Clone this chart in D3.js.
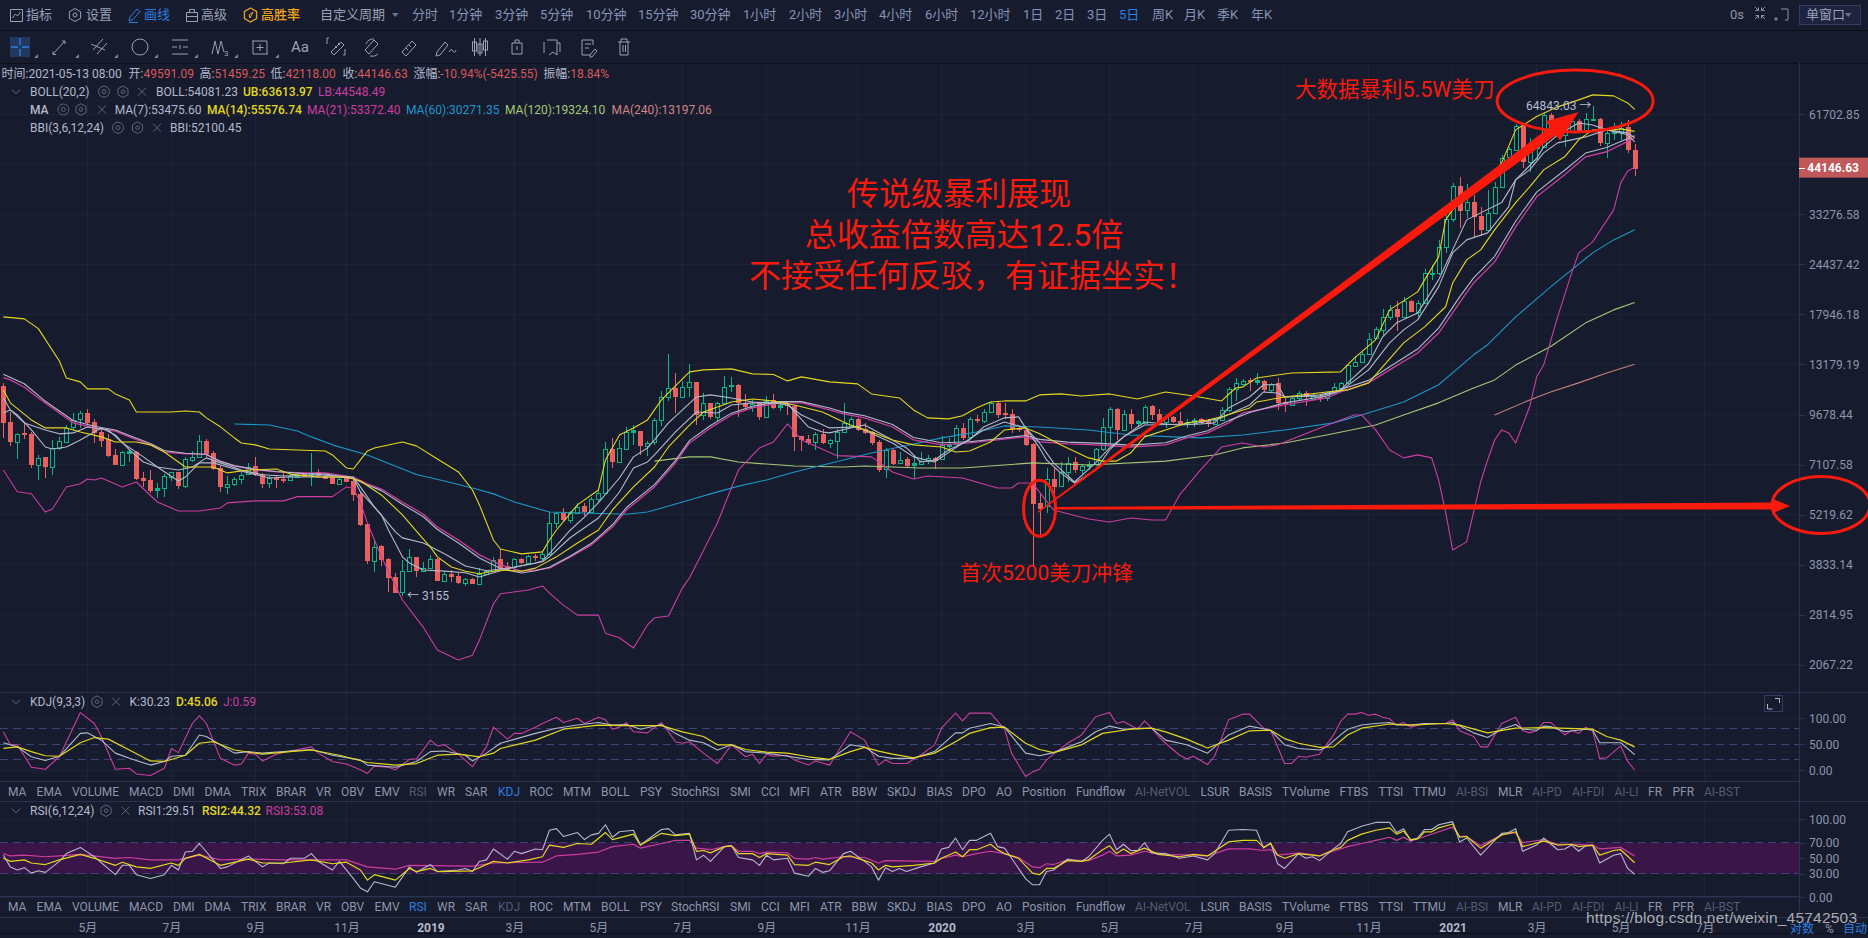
<!DOCTYPE html>
<html><head><meta charset="utf-8">
<style>
html,body{margin:0;padding:0;background:#161b2d;overflow:hidden}
svg{display:block}
text{font-family:Roboto,"Noto Sans CJK SC",sans-serif}
</style>
<script src="https://cdn.jsdelivr.net/npm/d3@7/dist/d3.min.js"></script>
</head><body><svg id="c" width="1868" height="938"></svg>
<script>
// Weekly-style 5-day BTC candles, oldest first
const opens=[11547,9248,8190,8623,8588,7107,7436,7019,7893,8190,
8949,9400,9757,9248,8711,8324,7545,7092,7638,7700,
6543,6461,6062,6139,6584,6790,6242,7327,7436,8206,
7622,6946,6203,6319,6488,6695,7034,6709,6332,6543,
6516,6461,6598,6709,6667,6804,6626,6571,6319,6530,
6435,5929,4926,3926,4301,3967,3543,3231,3676,4018,
3691,3753,3967,3470,3617,3573,3429,3506,3408,3617,
3684,3959,3800,3769,3959,3879,4043,3992,4102,4946,
5273,5047,5262,5506,5315,5759,5977,7810,7238,7843,
8711,8729,7991,8173,9360,10770,11408,10815,11456,11815,
9658,10379,9519,10379,11528,11623,10379,10167,10379,9559,
10569,10167,10273,10230,8465,8325,8157,8588,8140,8239,
8668,9042,9420,8855,8711,8173,6902,7777,7194,7342,
7077,7150,7253,7389,7342,7975,8074,8930,8413,9420,
9304,9817,10379,9757,9718,8893,8799,8074,5597,5517,
6500,6230,6805,7238,6887,7048,7136,7808,8986,10019,
8799,9698,9173,9210,10209,9698,9266,9539,9304,9136,
9229,9400,9323,9136,9360,9937,11360,11720,11970,11850,
11874,11250,11730,10452,10260,10691,11072,10624,10802,10691,
11027,11370,11730,13081,13405,14040,15485,16290,17700,18518,
17700,19443,18220,19220,23036,23224,27156,32276,39664,34190,
35860,33024,30220,33510,39336,47570,49530,57470,46095,50050,
50580,61430,56870,54320,55800,59370,56040,59735,59860,51630,
54920,55430,57230,49591.09];
const closes=[9207,8190,8588,8553,7092,7420,7019,7893,8206,8893,
9360,9757,9173,8658,8222,7497,7107,7669,7731,6502,
6435,6038,6139,6613,6777,6229,7342,7436,8206,7591,
6917,6203,6319,6488,6681,7019,6667,6319,6530,6475,
6435,6626,6667,6598,6736,6612,6516,6319,6488,6396,
5905,4896,3926,4283,3942,3536,3224,3676,4009,3691,
3761,3959,3470,3610,3558,3422,3499,3408,3610,3676,
3950,3722,3706,3959,3863,4034,3984,4093,4946,5262,
5037,5262,5483,5315,5759,5977,7810,7238,7860,8711,
8799,7991,8140,9360,10770,11385,10815,11456,11815,9658,
10379,9519,10379,11504,11600,10421,10167,10337,9539,10548,
10083,10273,10209,8448,8272,8107,8588,8124,8256,8676,
9173,9400,8799,8641,8107,6873,7777,7136,7311,7048,
7165,7253,7389,7280,8025,8074,8930,8360,9400,9304,
9817,10379,9658,9678,8836,8799,8041,5574,5392,6500,
6203,6805,7165,6873,7048,7136,7808,8986,9998,8799,
9698,9136,9304,10167,9658,9266,9519,9248,9154,9266,
9360,9210,9136,9360,9937,11360,11745,11887,11826,11970,
11250,11682,10410,10324,10691,11072,10802,10847,10624,11027,
11442,11730,13108,13405,14040,15450,16360,17700,18402,17700,
19443,18255,19220,23130,23224,27156,32276,39664,34054,35860,
32820,30284,33510,39336,47000,49740,57470,46095,50580,50580,
61430,56630,54320,58420,59370,55800,59860,60110,51630,54920,
55430,56630,49530,44146.63];
const highs=[11739,9857,8658,9173,8676,7545,7436,8272,8413,9080,
9757,9916,10040,9400,8986,8588,7810,7746,7810,7746,
6804,6873,6358,6709,6804,6804,7466,7746,8535,8307,
7715,7048,6626,6598,6804,7165,7451,6736,6626,6626,
6804,6804,6736,6736,7622,6931,6667,6598,6571,6598,
6488,6014,4946,4461,4319,3984,3632,3942,4212,4026,
3902,4068,3984,3669,3706,3632,3528,3521,3746,3706,
4026,4212,3902,3984,3984,4068,4093,4177,5294,5315,
5426,5348,5620,5597,5808,6050,8190,8360,8272,8948,
9080,8764,8239,9460,11220,14073,12543,11935,13234,11815,
11085,10421,10484,12288,12186,11672,10995,10590,10421,10860,
10972,10548,10379,10273,8500,8536,8693,8836,8342,8836,
10379,9519,9460,9173,8746,8272,7860,7808,7684,7466,
7544,7700,7544,7466,8483,8360,9061,9173,9559,9658,
9998,10506,10548,10421,10019,9023,8949,8107,5953,6946,
6946,7238,7466,7435,7136,7282,7860,9480,10125,10061,
9956,9998,9360,10273,10252,9998,9600,9600,9817,9400,
9460,9480,9400,9440,10167,11456,12110,12085,12097,12477,
11970,11778,12097,10691,10758,11205,11160,11027,10915,11116,
11778,11850,13135,13884,14256,16030,16590,18518,19025,19530,
19943,19610,19610,23700,24355,28410,33374,40330,42020,40150,
37600,34920,38680,40740,48100,50580,58240,58420,53240,53240,
62090,62090,57470,60230,60860,59860,62090,64843.03,60230,56040,
58420,59010,59610,51459.25];
const lows=[8357,7975,7358,8307,6946,6461,6530,6667,7777,8107,
8799,8893,9080,8107,7942,7436,7092,7063,7238,6461,
6203,5977,5796,5832,6435,6100,6165,7238,7389,7466,
6873,6014,5917,6229,6293,6667,6626,6165,6165,6165,
6358,6409,6530,6571,6229,6530,6488,6293,6280,6384,
5688,4876,3839,3669,3809,3244,3211,3155,3662,3558,
3669,3738,3463,3449,3449,3393,3366,3393,3401,3595,
3669,3706,3691,3706,3848,3848,3926,3942,4068,4796,
4996,4946,5240,5186,5283,5620,5929,6946,7209,7810,
8025,7544,7514,8041,9023,10548,9757,10770,10770,9098,
9360,9440,9323,10273,11152,9557,9916,9857,9360,9519,
10040,9916,9658,7730,7730,8025,7777,8058,7860,7342,
8623,8986,8764,8588,8025,6805,6530,7092,7165,7019,
6502,7121,7121,6902,7311,7700,8025,8272,8360,9173,
9173,9757,9460,9400,8623,8676,7992,3790,4508,5283,
5892,6203,6396,6763,6709,6873,7048,7746,8025,8272,
8764,8836,8986,9136,9360,9210,8930,9210,9061,8893,
8986,9136,8986,9061,9323,9857,10548,11553,11205,11610,
11138,11138,9940,9850,10217,10580,10217,10580,10431,10537,
10982,11138,11682,13054,13335,13997,15385,15805,17330,16225,
17626,18181,17700,19142,22190,22895,26170,31820,30540,32480,
29010,29140,29920,33374,39090,47180,49320,44235,43335,46560,
50050,56040,53800,50580,55450,55450,55800,59610,50790,47055,
52680,52680,48700,42118.00];

// Indicator readings as [candle index, value]
const bollUpper=[[0,17681],[3,17470],[5,16440],[8,13470],[9,12130],[11,11840],[12,11335],[15,11335],[16,10990],[18,10590],[19,9830],[21,9830],[24,9830],[26,9895],[28,9830],[29,9480],[31,8970],[33,8375],[34,8120],[36,8025],[38,7825],[46,7730],[47,7540],[49,6960],[50,6915],[51,7311],[52,7730],[53,7875],[57,8170],[59,7975],[62,7357],[65,6790],[67,6074],[68,5540],[70,4461],[71,4220],[74,4095],[77,4145],[78,4461],[79,4745],[82,5540],[85,6074],[86,7311],[88,8530],[90,8900],[92,9360],[94,10590],[98,12590],[100,12746],[104,12825],[107,12440],[110,12390],[112,11910],[114,12210],[118,11840],[120,11765],[122,11690],[124,10990],[126,10850],[128,10720],[130,9956],[132,9480],[135,9420],[137,9600],[139,10080],[141,10460],[143,10525],[146,10525],[148,10925],[151,10990],[154,10850],[158,10990],[162,10655],[166,11125],[170,10850],[174,10525],[176,11400],[177,11460],[179,12130],[184,12510],[191,12590],[193,13730],[196,15341],[198,18462],[202,20630],[203,22217],[205,25610],[206,32177],[207,34226],[210,38723],[212,40430],[214,45740],[216,56080],[219,60930],[222,64640],[225,67490],[227,69610],[230,69180],[232,66240],[233,63613.97]];
const bollLower=[[0,6873],[2,6010],[4,5935],[6,5300],[7,5400],[8,5780],[9,6190],[11,6310],[12,6500],[13,6461],[14,6540],[17,6190],[18,6280],[19,6380],[22,5640],[25,5335],[28,5335],[31,5435],[32,5610],[36,5680],[40,5680],[42,5830],[47,5830],[49,6190],[50,6150],[51,5610],[52,4960],[54,4020],[57,3080],[60,2600],[62,2261],[65,2126],[67,2190],[68,2405],[70,3010],[71,3200],[75,3276],[77,3360],[78,3215],[80,2985],[82,2805],[85,2805],[86,2510],[88,2440],[90,2290],[92,2640],[93,2760],[95,2790],[97,3320],[98,3530],[102,4960],[105,6873],[108,7875],[110,8170],[112,9130],[114,8272],[115,8120],[119,7510],[124,7450],[127,6790],[130,6500],[132,6620],[137,6540],[142,6150],[144,6150],[145,6340],[147,6340],[150,5369],[155,5080],[158,4985],[161,5110],[164,5047],[166,5047],[168,5890],[171,6873],[174,7920],[177,8120],[180,7920],[182,8025],[191,9360],[193,9650],[194,9650],[196,8800],[198,7777],[200,7405],[202,7545],[204,7405],[205,6461],[206,5300],[207,4194],[209,4410],[211,6380],[212,7311],[213,8272],[214,8800],[215,8640],[216,8120],[218,10150],[219,12200],[220,13130],[222,17680],[224,23200],[225,26250],[227,28100],[230,34226],[231,40430],[232,43500],[233,44548.49]];
const bollMid=[[0,12400],[3,11700],[6,10500],[10,9310],[13,9000],[16,8800],[18,8500],[21,8090],[23,7750],[26,7620],[29,7560],[31,7250],[33,7060],[36,6900],[39,6810],[43,6720],[46,6700],[50,6520],[52,6260],[54,6050],[57,5560],[60,5150],[62,4760],[65,4380],[68,3990],[71,3740],[74,3640],[76,3690],[78,3770],[81,4040],[84,4370],[87,4900],[89,5450],[93,6280],[96,7280],[98,8240],[101,9040],[104,9760],[107,10180],[111,10480],[114,10480],[118,10080],[120,9820],[123,9600],[127,9100],[130,8400],[134,8130],[138,8180],[142,8330],[146,8500],[148,8300],[152,8160],[156,8110],[161,8010],[166,8130],[169,8480],[172,8760],[175,9320],[178,9800],[183,10400],[189,10850],[191,11300],[195,11950],[198,13000],[202,14500],[205,16500],[208,20000],[210,22500],[213,25700],[216,31900],[219,38200],[223,43700],[226,48600],[229,50300],[231,52200],[233,54081.23]];
const ma7=[[0,9770],[1,9956],[2,9650],[4,8800],[6,7920],[7,7825],[9,7920],[11,8272],[13,8690],[14,8910],[16,8530],[18,7777],[20,7220],[22,7000],[25,6420],[26,6580],[28,7180],[30,7180],[32,7000],[35,6750],[38,6540],[41,6580],[44,6580],[47,6580],[50,6540],[51,6000],[54,5210],[55,4745],[57,4020],[58,3870],[60,3706],[63,3680],[66,3645],[68,3550],[70,3645],[73,3775],[76,3870],[77,3920],[78,4100],[81,4745],[83,5140],[85,5620],[88,6540],[90,7450],[92,7875],[93,8272],[95,9190],[97,9956],[99,10785],[101,10925],[104,10720],[107,10460],[110,10400],[112,10400],[113,9830],[115,8960],[117,8690],[118,8640],[121,8910],[123,9070],[127,8272],[129,7875],[131,7220],[133,7311],[135,7777],[138,8272],[140,8960],[143,9480],[145,9540],[146,8910],[148,7875],[149,7311],[151,6750],[153,6340],[156,6873],[158,7777],[160,8430],[163,9245],[166,9130],[168,9070],[171,9130],[173,9190],[175,10080],[178,10785],[180,11630],[182,11630],[183,10785],[188,10925],[191,11265],[192,11765],[195,13260],[197,15630],[199,17040],[202,18100],[205,22217],[207,26740],[209,32177],[211,33600],[214,35800],[216,41190],[219,47000],[220,50500],[222,54400],[225,58500],[227,57800],[229,56080],[232,55050],[233,53475.60]];
const ma14=[[0,11265],[1,10400],[4,9360],[6,8910],[9,8910],[11,8690],[14,8430],[16,8170],[19,8170],[21,8025],[23,7680],[25,7220],[26,7000],[30,7000],[32,6750],[35,6873],[39,6915],[41,6700],[45,6580],[49,6580],[51,6420],[54,5890],[57,5210],[59,4715],[61,4270],[62,4020],[64,3775],[66,3680],[68,3620],[71,3706],[74,3680],[76,3750],[79,4020],[82,4380],[85,4745],[87,5369],[90,6190],[93,7000],[95,7920],[98,9070],[100,9830],[104,10460],[107,10655],[110,10525],[113,10265],[117,9830],[120,9245],[121,9070],[124,8690],[127,8272],[130,8025],[134,7920],[136,7680],[138,7730],[141,8170],[143,8800],[146,8910],[148,8590],[151,8025],[155,7405],[157,7260],[159,7260],[161,7630],[163,8430],[166,8800],[169,9190],[172,9360],[174,9540],[178,10080],[179,10460],[183,10785],[189,11125],[192,11265],[195,11765],[197,12980],[200,15060],[203,16630],[206,18820],[207,21800],[209,25137],[211,26740],[213,30250],[216,35800],[218,39450],[220,43810],[223,47500],[225,52723],[227,56080],[230,56080],[231,56420],[233,55576.74]];
const ma21=[[0,12150],[1,11983],[3,11450],[5,10720],[8,9770],[10,9190],[13,8910],[16,8740],[18,8430],[21,8025],[23,7680],[26,7590],[29,7590],[30,7355],[33,7040],[36,6873],[39,6790],[43,6750],[46,6750],[50,6580],[52,6310],[54,6110],[57,5640],[60,5230],[62,4830],[65,4461],[68,4070],[71,3825],[74,3680],[76,3706],[78,3750],[81,4020],[84,4330],[87,4830],[89,5369],[93,6190],[96,7175],[98,8120],[101,8910],[104,9650],[107,10080],[111,10400],[114,10400],[118,9956],[120,9710],[123,9480],[127,8960],[130,8272],[134,8025],[138,8120],[142,8272],[146,8430],[148,8170],[152,8070],[156,8025],[161,7920],[166,8025],[169,8380],[172,8640],[175,9190],[177,9770],[183,10265],[189,10720],[191,11125],[195,11765],[198,12746],[202,14150],[205,16000],[208,19300],[210,21800],[213,24830],[216,30830],[219,37100],[223,42500],[226,47500],[229,49000],[231,51110],[233,53372.40]];
const ma60=[[33,9130],[38,9070],[42,8740],[44,8430],[47,8025],[52,7540],[59,6680],[63,6420],[67,6150],[70,5930],[73,5640],[78,5300],[83,5270],[89,5230],[92,5300],[98,5711],[101,5930],[105,6220],[109,6461],[113,6790],[120,7311],[124,7630],[128,7920],[134,8380],[139,8690],[143,9020],[148,8960],[155,8800],[161,8530],[167,8430],[171,8380],[177,8530],[183,8800],[190,9190],[194,9650],[200,10460],[205,11630],[210,13990],[212,14890],[216,17680],[221,21280],[227,26250],[230,28440],[233,30271.35]];
const ma120=[[93,7260],[98,7450],[101,7450],[105,7220],[109,7130],[113,7040],[120,7000],[123,7040],[131,6960],[137,6960],[147,7180],[155,7090],[166,7260],[173,7540],[177,7875],[183,8120],[189,8530],[196,9070],[200,9650],[205,10400],[210,11400],[213,11983],[216,13130],[221,14720],[226,17040],[230,18462],[233,19324.10]];
const ma240=[[213,9650],[218,10590],[221,11125],[225,11765],[229,12510],[233,13197.06]];
const bbi=[[0,10720],[1,9956],[3,9190],[6,8800],[8,8590],[10,8640],[12,8960],[15,8800],[17,8120],[20,7450],[22,7000],[25,6873],[27,7000],[29,7405],[31,7180],[34,6873],[37,6670],[40,6620],[45,6670],[50,6580],[51,6190],[53,5470],[56,4690],[57,4520],[60,4380],[63,4100],[66,3800],[69,3690],[73,3770],[77,3900],[78,4020],[81,4530],[85,5110],[88,6000],[90,6960],[92,7220],[93,7540],[96,8690],[99,9830],[102,9770],[104,10265],[107,10400],[110,10400],[112,10265],[114,9650],[118,8910],[122,8960],[127,8120],[130,7450],[133,7220],[136,7875],[140,8800],[143,9245],[146,8910],[148,8120],[150,7180],[153,6380],[156,7180],[158,7875],[160,8430],[163,9070],[170,9130],[174,9480],[178,10265],[180,11125],[182,11050],[183,10785],[188,10850],[191,11200],[195,12746],[198,15060],[200,16318],[202,17357],[205,21280],[207,26240],[209,28440],[212,29700],[215,34880],[216,41190],[218,43810],[220,48650],[222,51760],[226,53700],[229,56080],[232,54400],[233,52100.45]];

const kdjK=[[0,53],[1,49],[2,45],[4,26],[6,19],[8,27],[11,71],[12,72],[14,58],[16,33],[18,23],[21,10],[23,17],[24,27],[26,29],[28,68],[29,65],[31,49],[33,33],[35,36],[37,33],[41,37],[44,40],[47,29],[51,20],[52,10],[56,6],[59,17],[61,36],[63,37],[66,29],[67,18],[69,33],[71,52],[76,71],[79,81],[82,87],[85,92],[87,87],[89,88],[91,79],[94,88],[96,71],[98,58],[100,53],[102,39],[104,49],[106,36],[109,33],[112,27],[115,21],[118,20],[121,49],[123,45],[125,27],[127,23],[130,23],[133,36],[136,72],[137,72],[138,81],[141,90],[143,83],[146,33],[148,28],[150,34],[154,55],[156,74],[158,85],[160,79],[162,81],[164,81],[166,58],[169,49],[172,33],[175,68],[178,85],[181,77],[183,49],[185,42],[188,39],[189,45],[191,68],[192,79],[194,87],[196,90],[198,92],[199,87],[201,87],[203,90],[206,90],[207,92],[210,72],[212,63],[214,79],[216,88],[217,79],[219,77],[220,85],[221,84],[223,74],[226,79],[227,77],[228,53],[231,53],[233,30.23]];
const kdjD=[[0,42],[2,45],[4,36],[6,28],[8,27],[11,53],[13,63],[15,60],[18,39],[21,18],[23,17],[26,29],[28,52],[30,55],[33,39],[37,31],[41,36],[44,39],[48,29],[52,15],[56,10],[59,13],[62,29],[65,31],[68,26],[70,33],[71,42],[76,58],[80,79],[85,87],[89,86],[94,86],[97,74],[100,65],[102,49],[104,49],[106,40],[109,35],[112,33],[115,26],[118,21],[121,36],[123,44],[125,37],[127,31],[130,24],[133,33],[136,55],[138,71],[141,82],[143,83],[146,52],[148,40],[150,34],[154,49],[157,71],[161,79],[164,81],[166,74],[169,60],[172,43],[175,58],[178,76],[181,77],[183,61],[185,52],[188,44],[190,45],[192,68],[194,81],[198,89],[201,87],[206,90],[208,87],[212,72],[216,81],[220,82],[227,79],[229,65],[231,58],[233,45.06]];
const kdjJ=[[0,74],[1,49],[2,49],[4,6],[6,2],[8,26],[11,111],[13,90],[14,65],[16,2],[18,4],[19,-7],[21,-10],[23,4],[24,42],[25,34],[27,90],[28,105],[29,90],[31,23],[33,10],[34,12],[35,33],[36,31],[37,18],[39,31],[41,37],[44,45],[45,33],[47,17],[49,12],[51,1],[52,-6],[53,8],[55,6],[56,1],[58,21],[59,22],[61,58],[62,47],[63,49],[65,31],[67,7],[69,45],[70,83],[72,60],[73,71],[74,71],[76,83],[77,90],[79,102],[80,92],[82,100],[83,90],[85,102],[86,97],[87,79],[88,83],[89,92],[90,74],[92,72],[94,92],[95,74],[96,55],[97,52],[98,55],[100,33],[102,13],[104,49],[106,26],[107,31],[108,13],[109,31],[110,27],[112,29],[113,20],[115,10],[116,18],[118,10],[121,74],[123,58],[125,10],[126,20],[127,13],[129,13],[131,29],[133,49],[134,81],[136,110],[137,95],[138,110],[141,110],[143,79],[144,33],[146,-12],[147,-3],[148,2],[149,20],[150,31],[152,52],[154,68],[156,103],[158,111],[159,90],[160,94],[162,79],[163,95],[164,81],[165,65],[166,52],[168,29],[169,22],[170,27],[172,11],[173,27],[175,97],[177,108],[178,108],[180,81],[181,77],[183,13],[184,13],[185,27],[186,25],[188,31],[190,68],[191,94],[192,108],[193,108],[194,111],[195,106],[196,108],[197,102],[198,99],[199,87],[200,92],[201,83],[203,90],[206,90],[207,97],[208,76],[210,65],[211,45],[212,45],[214,90],[216,102],[217,76],[218,72],[219,76],[220,92],[221,92],[223,68],[224,77],[225,71],[226,83],[227,76],[228,23],[229,24],[231,47],[232,17],[233,0.59]];

const rsi1=[[0,54],[1,39],[2,35],[3,38],[4,31],[5,34],[6,32],[8,46],[9,56],[11,64],[13,52],[16,29],[17,41],[18,41],[19,29],[21,24],[23,29],[24,41],[25,35],[26,58],[27,59],[28,69],[31,37],[32,39],[35,53],[37,39],[38,44],[40,43],[41,50],[43,50],[44,56],[45,46],[47,35],[48,46],[50,24],[51,12],[52,7],[53,20],[56,13],[58,39],[59,32],[61,42],[62,33],[65,35],[66,37],[67,33],[68,46],[69,48],[70,62],[72,49],[73,59],[74,56],[76,62],[77,61],[78,86],[79,88],[80,78],[82,83],[83,74],[84,80],[85,82],[86,93],[87,77],[88,84],[90,86],[91,67],[94,87],[95,88],[96,80],[98,82],[99,48],[100,54],[101,46],[103,65],[104,66],[105,51],[107,48],[108,41],[109,54],[110,48],[112,50],[113,31],[115,27],[116,37],[117,32],[118,34],[120,56],[121,59],[123,46],[124,39],[125,22],[126,38],[127,33],[128,37],[129,33],[131,39],[133,44],[134,62],[135,64],[136,76],[137,61],[138,73],[139,73],[141,82],[142,65],[143,63],[144,50],[146,24],[147,16],[148,16],[149,33],[150,35],[152,49],[154,46],[155,52],[157,73],[158,81],[159,61],[160,68],[161,60],[162,60],[163,70],[164,57],[166,56],[168,50],[170,53],[172,48],[173,56],[175,86],[177,87],[179,86],[180,63],[181,70],[182,43],[183,37],[185,56],[186,50],[187,52],[188,47],[190,62],[191,69],[192,84],[194,91],[196,96],[198,96],[199,83],[200,88],[201,73],[202,76],[203,87],[204,87],[205,93],[207,97],[208,71],[209,76],[211,54],[214,82],[215,83],[216,88],[217,59],[219,67],[220,76],[222,61],[223,62],[224,67],[225,59],[226,66],[227,66],[228,44],[230,54],[231,56],[232,37],[233,29.51]];
const rsi2=[[0,50],[1,46],[3,48],[4,44],[6,42],[8,48],[11,55],[13,50],[16,41],[17,45],[19,39],[21,37],[24,44],[25,41],[26,50],[28,55],[31,41],[35,49],[37,44],[40,44],[44,48],[47,43],[49,45],[51,35],[52,22],[53,29],[56,22],[58,37],[59,33],[61,37],[62,33],[67,34],[70,46],[72,44],[75,48],[77,52],[78,67],[80,64],[82,69],[84,68],[86,83],[87,74],[90,81],[91,67],[94,82],[96,79],[98,81],[99,59],[100,60],[101,57],[103,65],[104,66],[105,56],[107,56],[108,51],[109,56],[112,54],[113,42],[115,41],[116,45],[118,42],[120,52],[121,53],[123,47],[124,44],[125,35],[126,41],[127,39],[130,41],[133,44],[134,50],[136,58],[137,52],[138,61],[139,61],[141,68],[142,61],[143,56],[145,50],[147,31],[148,29],[149,37],[150,37],[152,47],[154,46],[155,48],[157,61],[158,66],[159,56],[160,62],[161,56],[163,63],[165,55],[168,52],[170,55],[172,53],[175,71],[177,73],[179,73],[180,64],[181,69],[182,54],[183,50],[185,56],[188,53],[190,61],[191,64],[192,73],[194,81],[196,86],[198,89],[199,81],[200,85],[201,74],[202,75],[203,84],[204,84],[205,89],[207,94],[208,77],[209,78],[211,63],[214,80],[216,84],[217,65],[220,72],[222,67],[224,68],[225,65],[227,67],[228,54],[230,60],[231,61],[233,44.32]];
const rsi3=[[0,56],[1,53],[3,54],[6,52],[8,53],[11,55],[16,50],[18,51],[21,48],[25,48],[28,54],[31,48],[35,49],[40,48],[44,48],[49,48],[52,39],[56,36],[58,41],[67,40],[70,44],[77,45],[79,53],[82,55],[85,58],[87,65],[90,68],[91,63],[94,69],[96,73],[98,73],[99,63],[100,62],[101,61],[103,65],[104,66],[105,59],[107,59],[108,56],[109,58],[112,57],[113,50],[115,49],[116,51],[117,49],[120,52],[123,51],[125,44],[126,47],[133,46],[134,50],[136,54],[137,52],[139,56],[141,59],[143,56],[145,51],[147,39],[148,38],[149,43],[150,42],[152,48],[155,47],[157,54],[158,59],[159,53],[161,54],[163,59],[165,55],[170,54],[172,53],[175,62],[178,62],[180,60],[181,61],[182,54],[185,57],[188,53],[190,59],[192,65],[194,69],[196,73],[198,77],[199,73],[200,77],[201,72],[203,78],[207,90],[208,78],[209,78],[211,66],[214,80],[216,83],[217,70],[220,74],[222,68],[224,68],[227,67],[228,62],[231,64],[233,53.08]];

const priceTicks=[61702.85,45312.01,33276.58,24437.42,17946.18,13179.19,9678.44,7107.58,5219.62,3833.14,2814.95,2067.22];
const kdjTicks=[100,50,0], kdjDashes=[80,50,20];
const rsiTicks=[100,70,50,30,0], rsiDashes=[70,30];
const monthIdx=[12,24,36,49,61,73,85,97,109,122,134,146,158,170,183,195,207,219,231,243];
const monthLabels=["5月","7月","9月","11月","2019","3月","5月","7月","9月","11月","2020","3月","5月","7月","9月","11月","2021","3月","5月","7月"];
const yearLabels=["2019","2020","2021"];
const periods=[["分时",412],["1分钟",449],["3分钟",495],["5分钟",540],["10分钟",586],["15分钟",638],["30分钟",690],["1小时",743],["2小时",789],["3小时",834],["4小时",879],["6小时",925],["12小时",970],["1日",1023],["2日",1055],["3日",1087],["5日",1119],["周K",1152],["月K",1184],["季K",1217],["年K",1251]];
const tabNames=[["MA",8],["EMA",36.6],["VOLUME",72],["MACD",129],["DMI",173],["DMA",204.5],["TRIX",241],["BRAR",276],["VR",316],["OBV",341],["EMV",374.6],["RSI",409],["WR",437],["SAR",465],["KDJ",498],["ROC",529.5],["MTM",563],["BOLL",601],["PSY",640],["StochRSI",671],["SMI",730],["CCI",761],["MFI",789.5],["ATR",820],["BBW",851.5],["SKDJ",887],["BIAS",926.5],["DPO",962],["AO",996],["Position",1022],["Fundflow",1076],["AI-NetVOL",1135],["LSUR",1200.6],["BASIS",1239],["TVolume",1282],["FTBS",1339.5],["TTSI",1378.6],["TTMU",1413],["AI-BSI",1456],["MLR",1498],["AI-PD",1532],["AI-FDI",1572],["AI-LI",1614.5],["FR",1648],["PFR",1672.5],["AI-BST",1704]];
const dimTabs=["AI-NetVOL","AI-BSI","AI-PD","AI-FDI","AI-LI","AI-BST"];

const C={bg:"#161b2d",grid:"#1e2437",sep:"#2b3352",dark:"#0d1019",dash:"#3c4676",text:"#8e95ab",light:"#b3b9cc",blue:"#2d7de0",
  up:"#0db586",down:"#e8615f",white:"#b4b9cc",yellow:"#e3d81f",magenta:"#cc3ea0",cyan:"#1c97c8",olive:"#a5c776",salmon:"#c67f7f",red:"#f81b0d",band:"#3a1548"};

const svg=d3.select("#c");
const W=1799;
const x=d3.scaleLinear().domain([0,233]).range([3.33,1634.67]);
const y=d3.scaleLog().domain([priceTicks[11],priceTicks[0]]).range([664.6,114.4]);
const yK=d3.scaleLinear().domain([0,100]).range([770.3,718.3]);
const yR=d3.scaleLinear().domain([0,100]).range([897.3,819.3]);

function txt(px,py,s,col,o={}){
  return svg.append("text").attr("x",px).attr("y",py).attr("dy",".35em").attr("fill",col||C.text)
    .attr("font-size",o.size||12).attr("font-weight",o.weight||400).attr("text-anchor",o.anchor||"start").text(s);
}
function hline(py,x1,x2,col,dash){
  const l=svg.append("line").attr("x1",x1).attr("x2",x2).attr("y1",py).attr("y2",py).attr("stroke",col).attr("stroke-width",1).attr("shape-rendering","crispEdges");
  if(dash) l.attr("stroke-dasharray",dash);
  return l;
}

// panel backgrounds: grids, RSI band
const grid=svg.append("g").attr("stroke",C.grid).attr("shape-rendering","crispEdges");
[[63,692],[692,781],[801,896]].forEach(([a,b])=>{
  monthIdx.forEach(m=>grid.append("line").attr("x1",x(m)).attr("x2",x(m)).attr("y1",a).attr("y2",b));
});
priceTicks.forEach(p=>grid.append("line").attr("x1",0).attr("x2",W).attr("y1",y(p)).attr("y2",y(p)));
[100,0].forEach(v=>grid.append("line").attr("x1",0).attr("x2",W).attr("y1",yK(v)).attr("y2",yK(v)));
[100,0].forEach(v=>grid.append("line").attr("x1",0).attr("x2",W).attr("y1",yR(v)).attr("y2",yR(v)));
svg.append("rect").attr("x",0).attr("width",W).attr("y",yR(rsiDashes[0])).attr("height",yR(rsiDashes[1])-yR(rsiDashes[0])).attr("fill",C.band);
kdjDashes.forEach(v=>hline(yK(v),0,W,C.dash,"8 5"));
rsiDashes.forEach(v=>hline(yR(v),0,W,C.dash,"8 5"));

// candles: filled when falling, hollow when rising
const idx=d3.range(opens.length);
const cg=svg.append("g").attr("shape-rendering","crispEdges");
idx.forEach(i=>{
  const rising=closes[i]>=opens[i], col=rising?C.up:C.down, cx=Math.round(x(i));
  cg.append("line").attr("x1",cx+.5).attr("x2",cx+.5).attr("y1",y(highs[i])).attr("y2",y(lows[i])).attr("stroke",col);
  const top=Math.round(y(Math.max(opens[i],closes[i]))), bot=Math.round(y(Math.min(opens[i],closes[i])));
  const h=Math.max(bot-top,1);
  if(rising) cg.append("rect").attr("x",cx-1.5).attr("y",top+.5).attr("width",4).attr("height",h).attr("fill",h<3?col:C.bg).attr("stroke",col);
  else cg.append("rect").attr("x",cx-2).attr("y",top).attr("width",5).attr("height",h).attr("fill",col);
});

// indicator lines
function series(data,scale,col,w){
  svg.append("path").datum(data).attr("fill","none").attr("stroke",col).attr("stroke-width",w||1.1).attr("stroke-linejoin","round")
    .attr("d",d3.line().x(d=>x(d[0])).y(d=>scale(d[1])));
}
series(ma240,y,C.salmon); series(ma120,y,C.olive); series(ma60,y,C.cyan);
series(bollLower,y,C.magenta); series(bollUpper,y,C.yellow);
series(ma21,y,C.magenta,1.3); series(bollMid,y,C.white); series(bbi,y,C.white); series(ma7,y,C.white); series(ma14,y,C.yellow);
series(kdjJ,yK,C.magenta); series(kdjK,yK,C.white); series(kdjD,yK,C.yellow,1.2);
series(rsi3,yR,C.magenta,1.2); series(rsi1,yR,C.white); series(rsi2,yR,C.yellow,1.2);

// chrome separators
hline(30,0,1868,C.dark); hline(63,0,1868,C.dark);
hline(692,0,1868,C.sep); hline(781,0,W,C.sep); hline(801,0,1868,C.sep); hline(896,0,W,C.sep); hline(917,0,1868,C.sep); hline(933,0,1868,C.dark);
svg.append("line").attr("x1",W+.5).attr("x2",W+.5).attr("y1",63).attr("y2",917).attr("stroke",C.sep);

// value axes
function axis(scale,vals,fmt){
  const g=svg.append("g").attr("transform",`translate(${W},0)`).call(d3.axisRight(scale).tickValues(vals).tickSize(6).tickPadding(4).tickFormat(fmt));
  g.select(".domain").remove();
  g.selectAll("line").attr("stroke",C.sep).attr("shape-rendering","crispEdges");
  g.selectAll("text").attr("fill",C.text).attr("font-size",12).attr("font-family",'Roboto,"Noto Sans CJK SC",sans-serif');
  return g;
}
axis(y,priceTicks,d3.format(".2f"));
axis(yK,kdjTicks,d3.format(".2f"));
axis(yR,rsiTicks,d3.format(".2f"));

// time axis
const tg=svg.append("g").attr("transform","translate(0,923)").call(d3.axisBottom(x).tickValues(monthIdx).tickSize(0).tickPadding(0).tickFormat((d,i)=>monthLabels[i]));
tg.select(".domain").remove();
tg.selectAll("text").attr("font-size",12).attr("font-family",'Roboto,"Noto Sans CJK SC",sans-serif')
  .attr("fill",d=>yearLabels.includes(monthLabels[monthIdx.indexOf(d)])?C.light:C.text)
  .attr("font-weight",d=>yearLabels.includes(monthLabels[monthIdx.indexOf(d)])?700:400);

// current price tag
svg.append("rect").attr("x",W).attr("y",y(closes[233])-11).attr("width",69).attr("height",20).attr("fill","#c85a5b").attr("fill-opacity",.96);
hline(y(closes[233]),W,W+6,"#fff");
txt(1859,y(closes[233])-.5,d3.format(".2f")(closes[233]),"#fff",{anchor:"end",weight:700});

// top toolbar
const ink="#9aa1b6";
function strokePath(d,col,w){return svg.append("path").attr("d",d).attr("fill","none").attr("stroke",col||ink).attr("stroke-width",w||1);}
const hex=(cx,cy,r)=>{const a=d3.range(6).map(k=>[cx+r*Math.sin(k*Math.PI/3),cy-r*Math.cos(k*Math.PI/3)]);return "M"+a.join("L")+"Z";};
const rowY=14.5;
strokePath("M10.5 9.5h12v12h-12zM12.5 18l3-4 2 2 3-4");
txt(26,rowY,"指标",ink,{size:13});
strokePath(hex(75,15,6.5)); svg.append("circle").attr("cx",75).attr("cy",15).attr("r",2).attr("fill","none").attr("stroke",ink);
txt(86,rowY,"设置",ink,{size:13});
strokePath("M129 21l1-4 7-8 3 2.5-7 8-4 1.5zM129 22.5h9",C.blue);
txt(144,rowY,"画线",C.blue,{size:13});
strokePath("M186.5 12.5h11v9h-11zM189.5 12.5v-3h5v3M186.5 16.5h11");
txt(201,rowY,"高级",ink,{size:13});
strokePath(hex(250.5,15,7),"#e8a021",1.3); strokePath("M253 12l-3 6-1-3z","#e8a021");
txt(261,rowY,"高胜率","#f0a51e",{size:13,weight:500});
txt(320,rowY,"自定义周期",ink,{size:13});
svg.append("path").attr("d","M392 13h6.5l-3.2 4z").attr("fill","#6f768c");
periods.forEach(([s,px])=>txt(px,rowY,s,s==="5日"?C.blue:"#8793b6",{size:13}));
txt(1730,rowY,"0s",C.text,{size:13});
strokePath("M1755 7l3.5 3.5M1758.5 7.5v3h-3M1765 7l-3.5 3.5M1761.5 7.5v3h3M1755 19l3.5-3.5M1758.5 18.5v-3h-3M1765 19l-3.5-3.5M1761.5 18.5v-3h3",C.text);
strokePath("M1781 9h7v11h-3M1776 17v4M1774 19h4",C.text);
svg.append("rect").attr("x",1799.5).attr("y",5.5).attr("width",61).attr("height",19).attr("fill","#1e2440").attr("stroke","#333c62");
txt(1806,rowY,"单窗口",ink,{size:13});
svg.append("path").attr("d","M1845 13h6.5l-3.2 4z").attr("fill","#6f768c");

// drawing tools row
svg.append("rect").attr("x",10).attr("y",37).attr("width",20).attr("height",20).attr("fill","#22385e");
strokePath("M20 38v7M20 49v7M11 47h7M22 47h7",C.blue,1.3);
[38,79,118,158,198,238,279].forEach(px=>svg.append("path").attr("d",`M${px} 58v-4l-4 4z`).attr("fill","#7b8298"));
strokePath("M53 54l12-13M53 51.5v3h3M62 41h3v3");
strokePath("M93 50l10-11M97 54l10-11M91 44l14 6");
svg.append("circle").attr("cx",140).attr("cy",47).attr("r",8).attr("fill","none").attr("stroke",ink);
strokePath("M172 40h16M172 47h5M183 47h5M172 54h16M180 45v4");
strokePath("M212 54l3-13 3 13 3-13 3 11");
txt(224,53,"3",ink,{size:8});
strokePath("M253 41h14v13h-14zM260 44v7M256.5 47.5h7M253 41h-1M267 54h1");
txt(300,47,"Aa",ink,{size:15,anchor:"middle"});
strokePath("M329 38h-2v6M343 55h2v-6M331 52l10-10 3 3-10 10zM335 46l2 2M338 43l2 2");
strokePath("M366 44a8 8 0 0 1 8-5M378 54a8 8 0 0 1-8 2M365 50l9-10 4 4-9 10z");
strokePath("M402 52l10-11 4 4-10 11zM406 48l2 2M409 45l2 2");
strokePath("M437 52l8-10 3 3-8 10-4 1zM449 52q2-4 4-1t3-1");
strokePath("M474.5 38v18M480 38v18M485.5 38v18");
svg.append("rect").attr("x",472.5).attr("y",42).attr("width",4).attr("height",9).attr("fill","none").attr("stroke",ink);
svg.append("rect").attr("x",478).attr("y",44).attr("width",4).attr("height",9).attr("fill","none").attr("stroke",ink);
svg.append("rect").attr("x",483.5).attr("y",41).attr("width",4).attr("height",9).attr("fill","none").attr("stroke",ink);
strokePath("M512 43h10v11h-10zM515 43v-3h4v3M517 46v4");
strokePath("M547 40h10v15l-4-3-4 3M544 42v11M557 43h3v9");
strokePath("M582 40h11v5M582 40v15h8M585 44h6M585 48h4M590 55l5-6 2 2-5 6h-2z");
strokePath("M618 42h12M621 42v-3h6v3M620 42v13h8v-13M623 45v7M625.5 45v7");

// legend rows
txt(1.5,74,"时间:2021-05-13 08:00",C.light);
const q=[["开:",128.6,"49591.09"],["高:",199.6,"51459.25"],["低:",270.5,"42118.00"],["收:",342.4,"44146.63"],["涨幅:",413.4,"-10.94%(-5425.55)"],["振幅:",543.3,"18.84%"]];
q.forEach(([a,px,v])=>{
  const t=txt(px,74,a,C.light);
  t.append("tspan").attr("fill","#d9595b").text(v);
});
function chevron(py){strokePath(`M12 ${py-2}l4 4 4-4`,"#69708a");}
function eye(px,py){svg.append("circle").attr("cx",px).attr("cy",py).attr("r",5.5).attr("fill","none").attr("stroke","#5f6680");svg.append("circle").attr("cx",px).attr("cy",py).attr("r",2).attr("fill","none").attr("stroke","#5f6680");}
function gear(px,py){strokePath(hex(px,py,5.8),"#5f6680");svg.append("circle").attr("cx",px).attr("cy",py).attr("r",1.8).attr("fill","none").attr("stroke","#5f6680");}
function cross(px,py){strokePath(`M${px-4} ${py-4}l8 8M${px+4} ${py-4}l-8 8`,"#5f6680");}
chevron(91.7); txt(30,91.7,"BOLL(20,2)",C.light); eye(104,91.7); gear(123,91.7); cross(142,91.7);
txt(156,91.7,"BOLL:54081.23",C.light); txt(243,91.7,"UB:63613.97",C.yellow,{weight:500}); txt(318,91.7,"LB:44548.49",C.magenta);
txt(30,109.5,"MA",C.light,{weight:500}); eye(63.4,109.5); gear(81,109.5); cross(102,109.5);
[["MA(7):53475.60",114.7,C.light],["MA(14):55576.74",207,C.yellow],["MA(21):53372.40",307,C.magenta],["MA(60):30271.35",406,C.cyan],["MA(120):19324.10",505,C.olive],["MA(240):13197.06",611.6,"#d08585"]]
  .forEach(([s,px,c])=>txt(px,109.5,s,c,{weight:c===C.yellow?500:400}));
txt(30,127.7,"BBI(3,6,12,24)",C.light); eye(118,127.7); gear(137.5,127.7); cross(157,127.7);
txt(170,127.7,"BBI:52100.45",C.light);
chevron(701.7); txt(30,701.7,"KDJ(9,3,3)",C.light); gear(97,701.7); cross(116,701.7);
txt(129.5,701.7,"K:30.23",C.light); txt(176,701.7,"D:45.06",C.yellow,{weight:500}); txt(223,701.7,"J:0.59",C.magenta);
chevron(810.7); txt(30,810.7,"RSI(6,12,24)",C.light); gear(106,810.7); cross(125.5,810.7);
txt(138,810.7,"RSI1:29.51",C.light); txt(202,810.7,"RSI2:44.32",C.yellow,{weight:500}); txt(265.6,810.7,"RSI3:53.08",C.magenta);
svg.append("rect").attr("x",1764.5).attr("y",695.5).attr("width",18).attr("height",16).attr("fill","none").attr("stroke","#333c62");
strokePath("M1775 698.5h4.5v4.5M1767.5 704v5h5",C.light);

// indicator tabs beneath each lower panel
function tabs(py,active,off){
  tabNames.forEach(([s,px])=>{
    let c=C.text;
    if(dimTabs.includes(s)||s===off) c="#555c72";
    if(s===active) c=C.blue;
    txt(px,py,s,c);
  });
}
tabs(791.7,"KDJ","RSI");
tabs(906.7,"RSI","KDJ");

// bottom-right scale switches
txt(1790,929,"对数",C.blue);
txt(1825,929,"%",C.text);
txt(1843,929,"自动",C.blue);

// extreme price notes
txt(1526,106,"64843.03 →","#b8bed4");
txt(407,595.7,"← 3155","#b8bed4");

// hand-drawn style callouts, anchored to chart values
const rd=C.red;
function arrow(x1,y1,x2,y2,w1,w2,hl,hw){
  const L=Math.hypot(x2-x1,y2-y1),ux=(x2-x1)/L,uy=(y2-y1)/L,nx=-uy,ny=ux;
  const bx=x2-ux*hl,by=y2-uy*hl;
  const p=[[x1+nx*w1/2,y1+ny*w1/2],[bx+nx*w2/2,by+ny*w2/2],[bx+nx*hw,by+ny*hw],[x2,y2],[bx-nx*hw,by-ny*hw],[bx-nx*w2/2,by-ny*w2/2],[x1-nx*w1/2,y1-ny*w1/2]];
  svg.append("polygon").attr("points",p.join(" ")).attr("fill",rd);
}
arrow(x(147.8),y(5300),x(225),y(62650),1.5,10,32,12);
arrow(x(150),y(5430),1790,y(5500),2.5,7,18,7.5);
function ring(cx,cy,rx,ry,w){svg.append("ellipse").attr("cx",cx).attr("cy",cy).attr("rx",rx).attr("ry",ry).attr("fill","none").attr("stroke",rd).attr("stroke-width",w||3);}
ring(x(148),y(5430),16,28);
ring(x(224.5),y(67000),78,31);
ring(1821,505,49,28.5);
const big=(cx,py,s)=>txt(cx,py,s,rd,{size:32,anchor:"middle",weight:400});
big(959,194,"传说级暴利展现");
big(964,235,"总收益倍数高达12.5倍");
big(973,276,"不接受任何反驳，有证据坐实！");
txt(1295,89,"大数据暴利5.5W美刀",rd,{size:21.5,weight:400});
txt(960,573,"首次5200美刀冲锋",rd,{size:21,weight:400});

// site mark
svg.append("text").attr("x",1586).attr("y",923).attr("fill","#c9c9c9").attr("fill-opacity",.85).attr("font-size",15.5).attr("style","font-family:'Liberation Sans',sans-serif").attr("textLength",271).text("https://blog.csdn.net/weixin_45742503");
</script></body></html>
